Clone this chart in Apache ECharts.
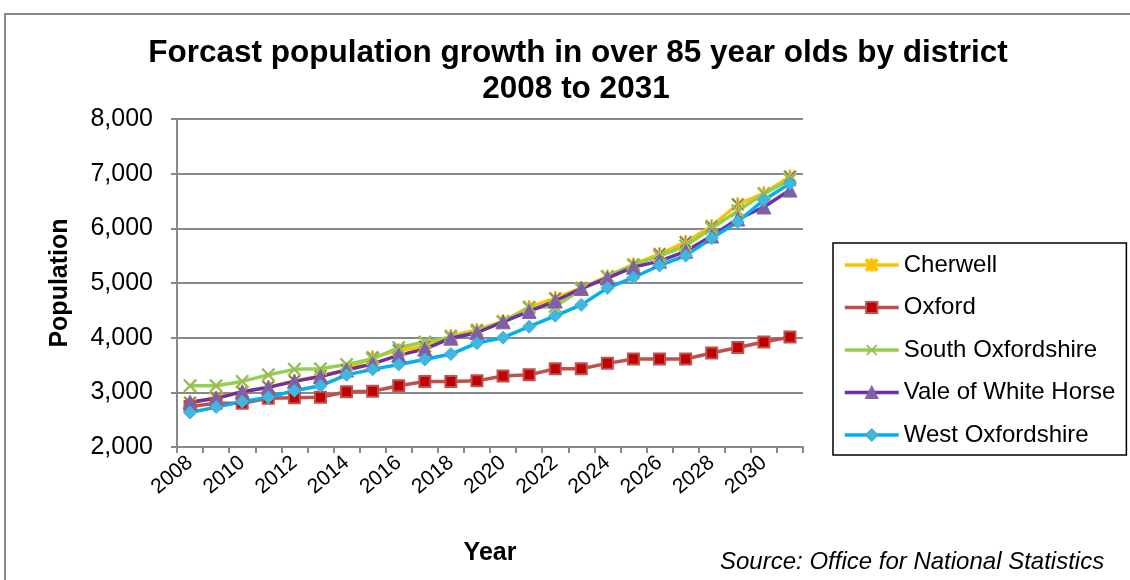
<!DOCTYPE html>
<html>
<head>
<meta charset="utf-8">
<script src="https://cdn.jsdelivr.net/npm/echarts@6/dist/echarts.min.js"></script>
<style>
  html, body { margin: 0; padding: 0; background: #ffffff; }
  #chart { width: 1130px; height: 580px; }
</style>
</head>
<body>
<div id="chart"></div>
<script>
// Forecast population aged 85+ by Oxfordshire district, 2008-2031
const years = ['2008','2009','2010','2011','2012','2013','2014','2015','2016','2017','2018','2019',
               '2020','2021','2022','2023','2024','2025','2026','2027','2028','2029','2030','2031'];

const cherwell = [2810, 2900, 3010, 3100, 3210, 3300, 3410, 3640, 3770, 3840, 4030, 4140,
                  4300, 4560, 4720, 4910, 5120, 5340, 5530, 5750, 6040, 6440, 6640, 6950];
const oxford = [2740, 2800, 2800, 2890, 2900, 2910, 3010, 3020, 3120, 3200, 3200, 3210,
                3300, 3320, 3430, 3430, 3530, 3610, 3610, 3610, 3720, 3820, 3920, 4010];
const southOxfordshire = [3120, 3120, 3200, 3320, 3420, 3430, 3510, 3610, 3820, 3920, 4010, 4110,
                          4290, 4550, 4570, 4880, 5120, 5330, 5490, 5680, 6000, 6320, 6630, 6890];
const valeOfWhiteHorse = [2820, 2890, 3010, 3090, 3200, 3290, 3410, 3520, 3680, 3790, 3990, 4090,
                          4290, 4480, 4670, 4900, 5090, 5290, 5400, 5580, 5860, 6170, 6390, 6700];
const westOxfordshire = [2630, 2730, 2830, 2910, 3030, 3120, 3320, 3420, 3510, 3600, 3700, 3900,
                         4000, 4200, 4400, 4600, 4910, 5100, 5320, 5500, 5820, 6120, 6520, 6820];

const seriesNames = ['Cherwell', 'Oxford', 'South Oxfordshire', 'Vale of White Horse', 'West Oxfordshire'];
const titleLines = ['Forcast population growth in over 85 year olds by district', '2008 to 2031'];

const FONT = '"Liberation Sans", Arial, sans-serif';

// Marker shapes: a thin "x" and an asterisk (x plus a vertical bar)
const crossMark = 'path://M0,12 L12,0 L50,38 L88,0 L100,12 L62,50 L100,88 L88,100 L50,62 L12,100 L0,88 L38,50 Z';
const starMark = 'path://M0,12 L12,0 L50,38 L88,0 L100,12 L62,50 L100,88 L88,100 L50,62 L12,100 L0,88 L38,50 Z M43,0 L57,0 L57,100 L43,100 Z';

function lineSeries(name, data, lineColor, symbol, size, itemStyle) {
  return {
    name: name,
    type: 'line',
    data: data,
    symbol: symbol,
    symbolSize: size,
    showAllSymbol: true,
    lineStyle: { color: lineColor, width: 3.5 },
    itemStyle: itemStyle,
    emphasis: { disabled: true },
    animation: false
  };
}

const chart = echarts.init(document.getElementById('chart'), null, { renderer: 'canvas' });

chart.setOption({
  backgroundColor: '#ffffff',
  textStyle: { fontFamily: FONT, color: '#000000' },
  animation: false,
  grid: { left: 177, right: 327, top: 119, bottom: 133, containLabel: false },
  legend: {
    orient: 'vertical',
    left: 833,
    top: 243,
    padding: [10, 11, 8, 10],
    itemWidth: 54,
    itemHeight: 14,
    itemGap: 18.5,
    selectedMode: false,
    borderColor: '#000000',
    borderWidth: 1.5,
    lineStyle: { width: 3.5 },
    textStyle: { fontFamily: FONT, fontSize: 24, lineHeight: 24, color: '#000000' },
    data: seriesNames
  },
  xAxis: {
    type: 'category',
    data: years,
    boundaryGap: true,
    name: 'Year',
    nameLocation: 'middle',
    nameGap: 94,
    nameTextStyle: { fontFamily: FONT, fontSize: 25, fontWeight: 'bold', color: '#000000' },
    axisLine: { show: true, lineStyle: { color: '#898989', width: 2 } },
    axisTick: { show: true, interval: 0, length: 6, lineStyle: { color: '#898989', width: 2 } },
    axisLabel: { interval: 1, rotate: 40, margin: 13, fontFamily: FONT, fontSize: 21, color: '#000000' },
    splitLine: { show: false }
  },
  yAxis: {
    type: 'value',
    min: 2000,
    max: 8000,
    interval: 1000,
    name: 'Population',
    nameLocation: 'middle',
    nameRotate: 90,
    nameGap: 104,
    nameTextStyle: { fontFamily: FONT, fontSize: 25, fontWeight: 'bold', color: '#000000' },
    axisLine: { show: true, lineStyle: { color: '#898989', width: 2 } },
    axisTick: { show: true, length: 6, lineStyle: { color: '#898989', width: 2 } },
    axisLabel: {
      margin: 24,
      fontFamily: FONT,
      fontSize: 25,
      color: '#000000',
      formatter: function (v) { return v.toLocaleString('en-GB'); }
    },
    splitLine: { show: true, lineStyle: { color: '#898989', width: 2 } }
  },
  graphic: [
    {
      type: 'rect',
      silent: true,
      shape: { x: 5, y: 14, width: 1300, height: 800 },
      style: { fill: 'none', stroke: '#898989', lineWidth: 2 }
    },
    {
      type: 'text',
      silent: true,
      x: 578,
      y: 53,
      style: {
        text: titleLines[0],
        font: 'bold 31.5px ' + FONT,
        fill: '#000000',
        align: 'center',
        verticalAlign: 'middle'
      }
    },
    {
      type: 'text',
      silent: true,
      x: 576,
      y: 89,
      style: {
        text: titleLines[1],
        font: 'bold 31.5px ' + FONT,
        fill: '#000000',
        align: 'center',
        verticalAlign: 'middle'
      }
    },
    {
      type: 'text',
      silent: true,
      x: 720,
      y: 562,
      style: {
        text: 'Source: Office for National Statistics',
        font: 'italic 24px ' + FONT,
        fill: '#000000',
        verticalAlign: 'middle',
        align: 'left'
      }
    }
  ],
  series: [
    lineSeries(seriesNames[0], cherwell, '#FFC000', starMark, 13,
      { color: '#4F81BD', borderColor: '#FFC000', borderWidth: 1 }),
    lineSeries(seriesNames[1], oxford, '#C0504D', 'rect', 11,
      { color: '#C00000', borderColor: '#C0504D', borderWidth: 2 }),
    lineSeries(seriesNames[2], southOxfordshire, '#92D050', crossMark, 14,
      { color: '#9BBB59' }),
    lineSeries(seriesNames[3], valeOfWhiteHorse, '#7030A0', 'triangle', 14,
      { color: '#7F5FA9', borderColor: '#8064A2', borderWidth: 1 }),
    lineSeries(seriesNames[4], westOxfordshire, '#00B0F0', 'diamond', 13,
      { color: '#3DB8E0', borderColor: '#4BACC6', borderWidth: 1 })
  ]
});
</script>
</body>
</html>
